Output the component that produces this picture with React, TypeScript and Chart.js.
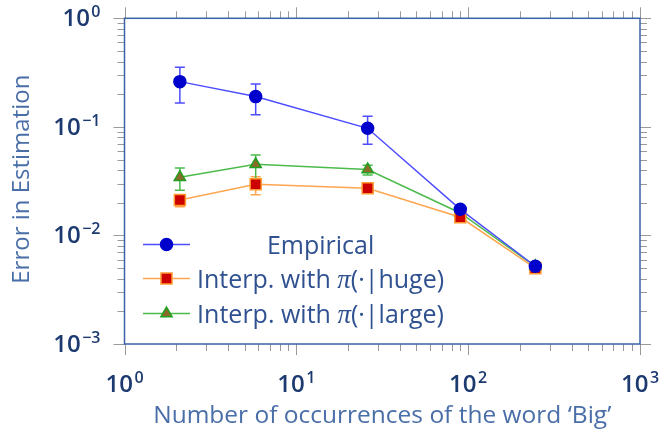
import React, { useEffect, useRef } from 'react';
import { Chart, registerables } from 'chart.js';

Chart.register(...registerables);

// ---- data ----
const occurrences = [2.1, 5.8, 26, 90, 246];

const empirical = [0.261, 0.19, 0.097, 0.0174, 0.0052];
const empiricalLow = [0.166, 0.129, 0.069, 0.0166, 0.005];
const empiricalHigh = [0.354, 0.248, 0.125, 0.0182, 0.0054];

const huge = [0.0212, 0.0296, 0.0272, 0.0147, 0.005];
const hugeLow = [0.0184, 0.0237, 0.0258, 0.0141, 0.0048];
const hugeHigh = [0.0237, 0.0348, 0.0286, 0.0153, 0.0052];

const large = [0.0344, 0.0452, 0.0405, 0.0161, 0.0052];
const largeLow = [0.0261, 0.0304, 0.0361, 0.0156, 0.005];
const largeHigh = [0.0418, 0.0551, 0.0443, 0.0168, 0.0054];

const seriesNames = ['Empirical', 'Interp. with π(·|huge)', 'Interp. with π(·|large)'];

const xMajorExponents = [0, 1, 2, 3];
const yMajorExponents = [-3, -2, -1, 0];
const minorMultipliers = [2, 3, 4, 5, 6, 7, 8, 9];

const xTitle = 'Number of occurrences of the word ‘Big’';
const yTitle = 'Error in Estimation';

// ---- styles ----
const FONT = '"Open Sans", "Noto Sans", sans-serif';
const TICK_COLOR = '#1c3a70';
const TITLE_COLOR = '#4a6ea8';
const LEGEND_COLOR = '#2f5190';
const BORDER_COLOR = '#3b62a6';
const TICKMARK_COLOR = '#9a9a9a';

const lineColors = ['#4d4dff', '#ffa650', '#4cbb4c'];
const pointFills = ['#0000cc', '#cc0000', '#8b6a2a'];
const pointBorders = ['#0000cc', '#ff9a30', '#22a022'];
const pointStyles = ['circle', 'rect', 'triangle'];
const pointRadii = [6, 7.8, 6.5];

const errLows = [empiricalLow, hugeLow, largeLow];
const errHighs = [empiricalHigh, hugeHigh, largeHigh];

function drawPow(ctx: CanvasRenderingContext2D, exp: number, x: number, y: number, align: 'center' | 'right') {
  const base = '10';
  const sup = exp < 0 ? '−' + Math.abs(exp) : String(exp);
  ctx.fillStyle = TICK_COLOR;
  ctx.textAlign = 'left';
  ctx.textBaseline = 'alphabetic';
  const fb = `600 24px ${FONT}`;
  const fs = `600 16px ${FONT}`;
  ctx.font = fb;
  const wb = ctx.measureText(base).width;
  ctx.font = fs;
  const ws = ctx.measureText(sup).width + 1.5;
  const total = wb + ws;
  const start = align === 'center' ? x - total / 2 : x - total;
  ctx.font = fb;
  ctx.fillText(base, start, y);
  ctx.font = fs;
  ctx.fillText(sup, start + wb + 1.5, y - 9);
}

function drawMarker(ctx: CanvasRenderingContext2D, i: number, x: number, y: number) {
  ctx.save();
  ctx.fillStyle = pointFills[i];
  ctx.strokeStyle = pointBorders[i];
  ctx.lineWidth = 1.5;
  ctx.beginPath();
  const r = pointRadii[i];
  if (pointStyles[i] === 'circle') {
    ctx.arc(x, y, r, 0, Math.PI * 2);
  } else if (pointStyles[i] === 'rect') {
    const s = r * Math.SQRT1_2;
    ctx.rect(x - s, y - s, 2 * s, 2 * s);
  } else {
    ctx.moveTo(x, y - r);
    ctx.lineTo(x + r * Math.sin(Math.PI * 2 / 3), y - r * Math.cos(Math.PI * 2 / 3));
    ctx.lineTo(x + r * Math.sin(Math.PI * 4 / 3), y - r * Math.cos(Math.PI * 4 / 3));
    ctx.closePath();
  }
  ctx.fill();
  ctx.stroke();
  ctx.restore();
}

const decorPlugin = {
  id: 'decor',
  beforeDatasetsDraw(chart: any) {
    const ctx: CanvasRenderingContext2D = chart.ctx;
    const xs = chart.scales.x;
    const ys = chart.scales.y;
    ctx.save();
    for (let i = 0; i < 3; i++) {
      ctx.strokeStyle = lineColors[i];
      ctx.lineWidth = 1.5;
      for (let j = 0; j < occurrences.length; j++) {
        const px = xs.getPixelForValue(occurrences[j]);
        const y1 = ys.getPixelForValue(errLows[i][j]);
        const y2 = ys.getPixelForValue(errHighs[i][j]);
        ctx.beginPath();
        ctx.moveTo(px, y1);
        ctx.lineTo(px, y2);
        ctx.moveTo(px - 5, y1);
        ctx.lineTo(px + 5, y1);
        ctx.moveTo(px - 5, y2);
        ctx.lineTo(px + 5, y2);
        ctx.stroke();
      }
    }
    ctx.restore();
  },
  afterDraw(chart: any) {
    const ctx: CanvasRenderingContext2D = chart.ctx;
    const { left, right, top, bottom } = chart.chartArea;
    const xs = chart.scales.x;
    const ys = chart.scales.y;
    ctx.save();
    // tick marks
    ctx.strokeStyle = TICKMARK_COLOR;
    ctx.lineWidth = 1;
    const xTick = (v: number, len: number) => {
      const px = Math.round(xs.getPixelForValue(v)) + 0.5;
      ctx.beginPath();
      ctx.moveTo(px, bottom);
      ctx.lineTo(px, bottom + len);
      ctx.moveTo(px, top);
      ctx.lineTo(px, top - len);
      ctx.stroke();
    };
    const yTick = (v: number, len: number) => {
      const py = Math.round(ys.getPixelForValue(v)) + 0.5;
      ctx.beginPath();
      ctx.moveTo(left, py);
      ctx.lineTo(left - len, py);
      ctx.moveTo(right, py);
      ctx.lineTo(right + len, py);
      ctx.stroke();
    };
    xMajorExponents.forEach((e, k) => {
      xTick(Math.pow(10, e), 11);
      if (k < xMajorExponents.length - 1) minorMultipliers.forEach((m) => xTick(m * Math.pow(10, e), 7));
    });
    yMajorExponents.forEach((e, k) => {
      yTick(Math.pow(10, e), 11);
      if (k < yMajorExponents.length - 1) minorMultipliers.forEach((m) => yTick(m * Math.pow(10, e), 7));
    });
    // border
    ctx.strokeStyle = BORDER_COLOR;
    ctx.lineWidth = 1.5;
    ctx.strokeRect(left, top, right - left, bottom - top);
    // tick labels
    xMajorExponents.forEach((e) => drawPow(ctx, e, xs.getPixelForValue(Math.pow(10, e)), 392, 'center'));
    yMajorExponents.forEach((e) => drawPow(ctx, e, left - 24, ys.getPixelForValue(Math.pow(10, e)) + 8, 'right'));
    // axis titles
    ctx.fillStyle = TITLE_COLOR;
    ctx.font = `24.5px ${FONT}`;
    ctx.textAlign = 'center';
    ctx.textBaseline = 'alphabetic';
    ctx.fillText(xTitle, (left + right) / 2, 423);
    ctx.save();
    ctx.translate(29, (top + bottom) / 2 - 2);
    ctx.rotate(-Math.PI / 2);
    ctx.font = `24px ${FONT}`;
    ctx.fillText(yTitle, 0, 0);
    ctx.restore();
    // legend
    const rowsY = [244.5, 278.5, 313.5];
    const textX = 197;
    const fontMain = `25px ${FONT}`;
    const fontPi = `italic 27px "Liberation Serif", serif`;
    const segs = (name: string) => {
      const idx = name.indexOf('π');
      if (idx < 0) return [{ t: name, f: fontMain }];
      return [
        { t: name.slice(0, idx), f: fontMain },
        { t: 'π', f: fontPi },
        { t: name.slice(idx + 1), f: fontMain },
      ];
    };
    const widthOf = (name: string) =>
      segs(name).reduce((s, sg) => {
        ctx.font = sg.f;
        return s + ctx.measureText(sg.t).width;
      }, 0);
    const maxW = Math.max(...seriesNames.map(widthOf));
    seriesNames.forEach((name, i) => {
      const y = rowsY[i];
      ctx.strokeStyle = lineColors[i];
      ctx.lineWidth = 1.5;
      ctx.beginPath();
      ctx.moveTo(143, y);
      ctx.lineTo(190, y);
      ctx.stroke();
      drawMarker(ctx, i, 166.5, y);
      const w = widthOf(name);
      let x = textX + (maxW - w) / 2;
      ctx.fillStyle = LEGEND_COLOR;
      ctx.textAlign = 'left';
      segs(name).forEach((sg) => {
        ctx.font = sg.f;
        ctx.fillText(sg.t, x, y + 9);
        x += ctx.measureText(sg.t).width;
      });
    });
    ctx.restore();
  },
};

export default function App() {
  const ref = useRef<HTMLCanvasElement | null>(null);
  useEffect(() => {
    if (!ref.current) return;
    const mk = (vals: number[]) => occurrences.map((x, j) => ({ x, y: vals[j] }));
    const all = [empirical, huge, large];
    const chart = new Chart(ref.current, {
      type: 'line',
      data: {
        datasets: all.map((vals, i) => ({
          label: seriesNames[i],
          data: mk(vals),
          borderColor: lineColors[i],
          borderWidth: 1.5,
          backgroundColor: pointFills[i],
          pointBackgroundColor: pointFills[i],
          pointBorderColor: pointBorders[i],
          pointBorderWidth: 1.5,
          pointStyle: pointStyles[i] as any,
          pointRadius: pointRadii[i],
          pointHoverRadius: pointRadii[i],
          fill: false,
          tension: 0,
        })),
      },
      options: {
        responsive: false,
        animation: false,
        events: [],
        layout: { padding: { left: 124.5, right: 20, top: 18.3, bottom: 87 } },
        plugins: { legend: { display: false }, tooltip: { enabled: false } },
        scales: {
          x: { type: 'logarithmic', min: 1, max: 1000, display: false },
          y: { type: 'logarithmic', min: 0.001, max: 1, display: false },
        },
      },
      plugins: [decorPlugin],
    });
    return () => chart.destroy();
  }, []);
  return (
    <div style={{ position: 'fixed', left: 0, top: 0, width: 660, height: 431, background: '#fff' }}>
      <canvas ref={ref} width={660} height={431} style={{ display: 'block', width: 660, height: 431 }} />
    </div>
  );
}
